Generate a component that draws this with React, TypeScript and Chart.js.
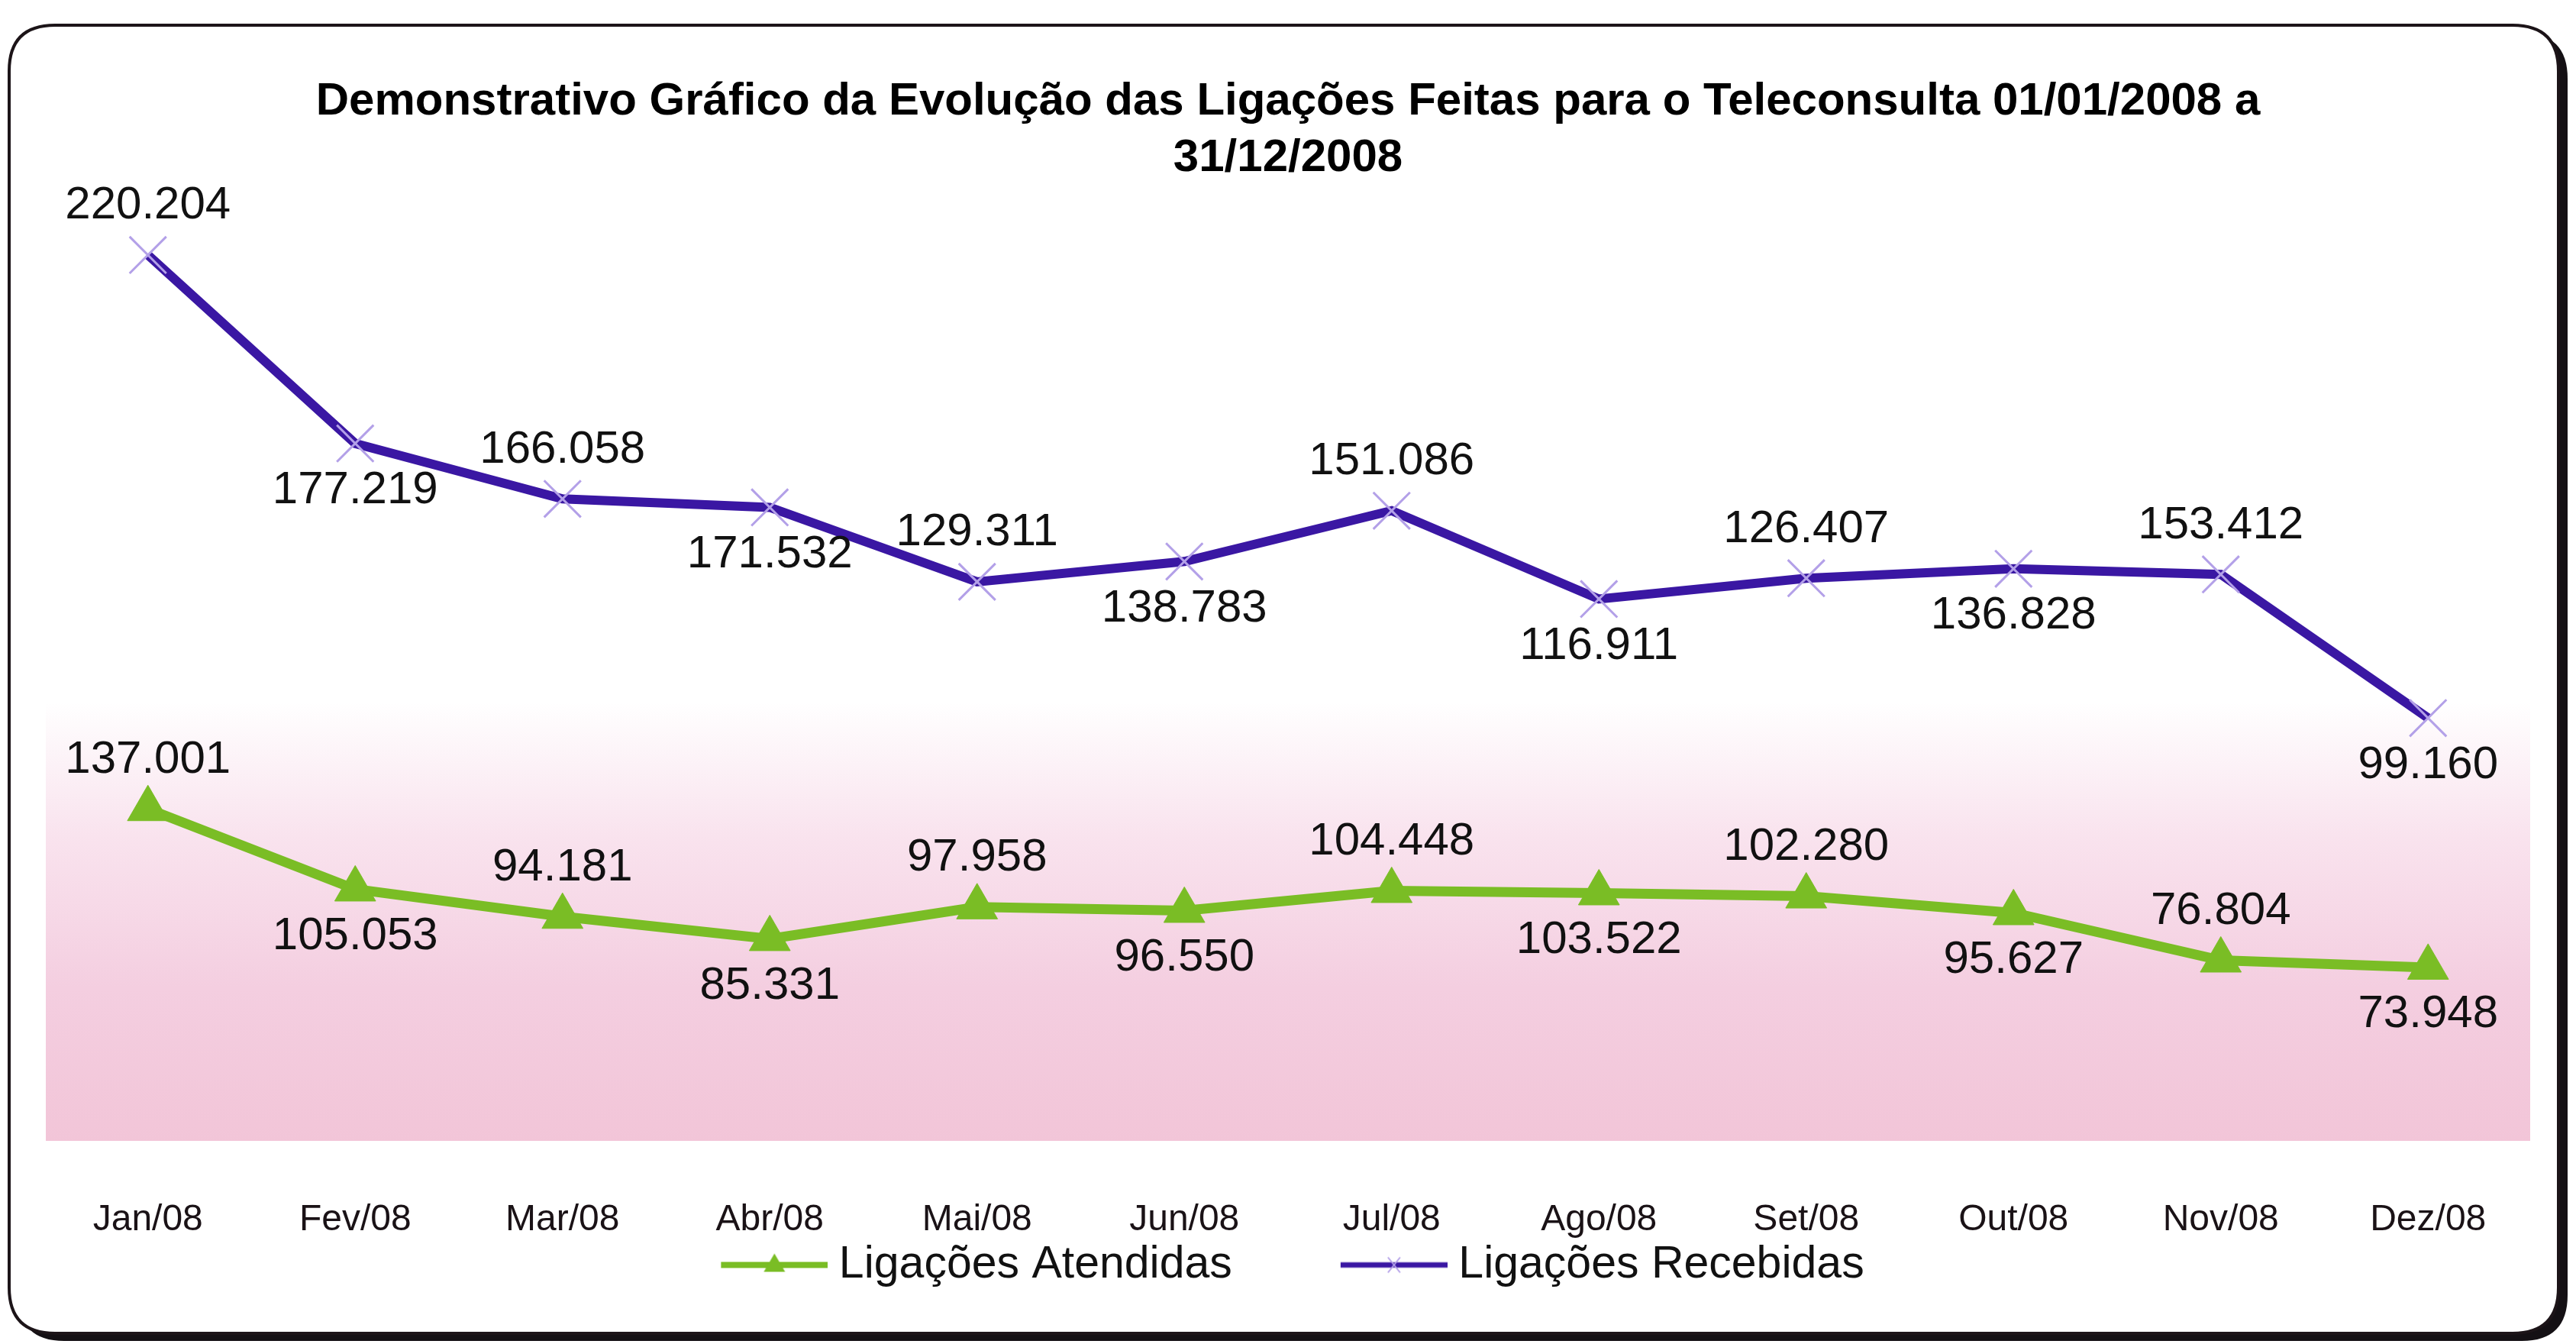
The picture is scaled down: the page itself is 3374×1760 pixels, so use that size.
import React, { useEffect, useRef } from 'react';
import { Chart, registerables } from 'chart.js';

Chart.register(...registerables);

// ---- data ----
const months = ['Jan/08', 'Fev/08', 'Mar/08', 'Abr/08', 'Mai/08', 'Jun/08', 'Jul/08', 'Ago/08', 'Set/08', 'Out/08', 'Nov/08', 'Dez/08'];
const atendidas = [137001, 105053, 94181, 85331, 97958, 96550, 104448, 103522, 102280, 95627, 76804, 73948];
const recebidas = [220204, 177219, 166058, 171532, 129311, 138783, 151086, 116911, 126407, 136828, 153412, 99160];
const seriesNames = ['Ligações Atendidas', 'Ligações Recebidas'];
const titleLines = [
  'Demonstrativo Gráfico da Evolução das Ligações Feitas para o Teleconsulta 01/01/2008 a',
  '31/12/2008',
];

// ---- styling ----
const W = 3374;
const H = 1760;
const FONT = '"Liberation Sans", Arial, Helvetica, sans-serif';
const GREEN = '#7abd25';
const BLUE = '#3a17a3';
const CROSS = '#b3a0e8';
const LEGEND_PAD = 2;
const LEGEND_GAP = 125;
const SAMPLE = 140;
const OVER = 15;

const fmt = (v: number) => String(v).replace(/\B(?=(\d{3})+(?!\d))/g, '.');

function roundRect(ctx: CanvasRenderingContext2D, x: number, y: number, w: number, h: number, r: number) {
  ctx.beginPath();
  ctx.moveTo(x + r, y);
  ctx.lineTo(x + w - r, y);
  ctx.quadraticCurveTo(x + w, y, x + w, y + r);
  ctx.lineTo(x + w, y + h - r);
  ctx.quadraticCurveTo(x + w, y + h, x + w - r, y + h);
  ctx.lineTo(x + r, y + h);
  ctx.quadraticCurveTo(x, y + h, x, y + h - r);
  ctx.lineTo(x, y + r);
  ctx.quadraticCurveTo(x, y, x + r, y);
  ctx.closePath();
}

function makeGlyph(kind: 'tri' | 'cross'): HTMLCanvasElement {
  const c = document.createElement('canvas');
  c.width = LEGEND_GAP + SAMPLE + 2 * OVER;
  c.height = 50;
  const g = c.getContext('2d')!;
  const x0 = LEGEND_GAP + 2 * OVER;
  const xm = x0 + SAMPLE / 2;
  g.lineCap = 'butt';
  if (kind === 'tri') {
    g.strokeStyle = GREEN;
    g.lineWidth = 8;
    g.beginPath();
    g.moveTo(x0, 25);
    g.lineTo(x0 + SAMPLE, 25);
    g.stroke();
    g.fillStyle = GREEN;
    g.beginPath();
    g.moveTo(xm, 10);
    g.lineTo(xm + 14, 34);
    g.lineTo(xm - 14, 34);
    g.closePath();
    g.fill();
  } else {
    g.strokeStyle = BLUE;
    g.lineWidth = 7;
    g.beginPath();
    g.moveTo(x0, 25);
    g.lineTo(x0 + SAMPLE, 25);
    g.stroke();
    g.strokeStyle = CROSS;
    g.lineWidth = 2;
    g.beginPath();
    g.moveTo(xm - 8, 15);
    g.lineTo(xm + 8, 35);
    g.moveTo(xm - 8, 35);
    g.lineTo(xm + 8, 15);
    g.stroke();
  }
  return c;
}

const framePlugin = {
  id: 'frame',
  beforeDraw(chart: any) {
    const ctx = chart.ctx as CanvasRenderingContext2D;
    ctx.save();
    ctx.fillStyle = '#ffffff';
    ctx.fillRect(0, 0, W, H);
    roundRect(ctx, 24, 43, 3339, 1713, 60);
    ctx.fillStyle = '#141014';
    ctx.fill();
    roundRect(ctx, 12, 33, 3339, 1713, 60);
    ctx.fillStyle = '#ffffff';
    ctx.fill();
    ctx.lineWidth = 4;
    ctx.strokeStyle = '#1c1418';
    ctx.stroke();
    ctx.restore();
  },
};

const gradientPlugin = {
  id: 'plotGradient',
  beforeDatasetsDraw(chart: any) {
    const ctx = chart.ctx as CanvasRenderingContext2D;
    const { left, right, top, bottom } = chart.chartArea;
    const g = ctx.createLinearGradient(0, top, 0, bottom);
    g.addColorStop(0, '#ffffff');
    g.addColorStop(0.54, '#ffffff');
    g.addColorStop(0.68, '#f9e3ee');
    g.addColorStop(0.84, '#f4cee0');
    g.addColorStop(1, '#f2c5d8');
    ctx.save();
    ctx.fillStyle = g;
    ctx.fillRect(left + 2, top, right - left - 4, bottom - top);
    ctx.restore();
  },
};

const valueLabelPlugin = {
  id: 'valueLabels',
  afterDatasetsDraw(chart: any) {
    const ctx = chart.ctx as CanvasRenderingContext2D;
    ctx.save();
    ctx.font = `60px ${FONT}`;
    ctx.fillStyle = '#111111';
    ctx.textAlign = 'center';
    ctx.textBaseline = 'middle';
    chart.data.datasets.forEach((ds: any, di: number) => {
      const meta = chart.getDatasetMeta(di);
      meta.data.forEach((pt: any, i: number) => {
        const above = i % 2 === 0;
        ctx.fillText(fmt(ds.data[i]), pt.x, pt.y + (above ? -64 : 62));
      });
    });
    ctx.restore();
  },
};

export default function App() {
  const ref = useRef<HTMLCanvasElement>(null);

  useEffect(() => {
    const canvas = ref.current;
    if (!canvas) return;
    const glyphs = [makeGlyph('tri'), makeGlyph('cross')];
    const chart = new Chart(canvas, {
      type: 'line',
      data: {
        labels: months,
        datasets: [
          {
            label: seriesNames[0],
            data: atendidas,
            borderColor: GREEN,
            backgroundColor: GREEN,
            borderWidth: 13,
            pointStyle: 'triangle',
            pointRadius: 31,
            pointBackgroundColor: GREEN,
            pointBorderColor: GREEN,
            pointBorderWidth: 1,
            tension: 0,
            fill: false,
          },
          {
            label: seriesNames[1],
            data: recebidas,
            borderColor: BLUE,
            backgroundColor: BLUE,
            borderWidth: 12,
            pointStyle: 'crossRot',
            pointRadius: 34,
            pointBackgroundColor: 'rgba(0,0,0,0)',
            pointBorderColor: CROSS,
            pointBorderWidth: 3,
            tension: 0,
            fill: false,
          },
        ],
      },
      options: {
        responsive: false,
        devicePixelRatio: 1,
        animation: false,
        events: [],
        layout: { padding: { left: -70, right: 58, top: 0, bottom: 64 } },
        scales: {
          x: {
            offset: true,
            grid: { display: false },
            border: { display: false },
            ticks: {
              padding: 0,
              autoSkip: false,
              maxRotation: 0,
              minRotation: 0,
              color: '#1a1216',
              font: { size: 48, family: FONT, lineHeight: 4.0 },
            },
            afterFit: (s: any) => {
              s.height = 131;
            },
          },
          y: {
            display: true,
            stacked: true,
            min: 5000,
            max: 384500,
            grid: { display: false },
            border: { display: false },
            ticks: { display: false },
            afterFit: (s: any) => {
              s.width = 128;
            },
          },
        },
        plugins: {
          title: {
            display: true,
            fullSize: false,
            text: titleLines,
            color: '#000000',
            font: { size: 60, weight: 'bold', family: FONT, lineHeight: 74 / 60 },
            padding: { top: 96, bottom: 0 },
          },
          legend: {
            display: true,
            position: 'bottom',
            fullSize: true,
            labels: {
              usePointStyle: true,
              pointStyleWidth: LEGEND_GAP + SAMPLE,
              padding: LEGEND_PAD,
              color: '#111111',
              font: { size: 59, family: FONT },
              generateLabels: (c: any) =>
                c.data.datasets.map((ds: any, i: number) => ({
                  text: ds.label,
                  pointStyle: glyphs[i],
                  datasetIndex: i,
                  hidden: false,
                  fillStyle: ds.borderColor,
                  strokeStyle: ds.borderColor,
                  fontColor: '#111111',
                  lineWidth: 0,
                })),
            },
          },
          tooltip: { enabled: false },
        },
      },
      plugins: [framePlugin, gradientPlugin, valueLabelPlugin],
    } as any);
    return () => chart.destroy();
  }, []);

  return (
    <div style={{ position: 'fixed', left: 0, top: 0, width: W, height: H, background: '#ffffff' }}>
      <canvas ref={ref} width={W} height={H} style={{ display: 'block', width: W, height: H }} />
    </div>
  );
}
